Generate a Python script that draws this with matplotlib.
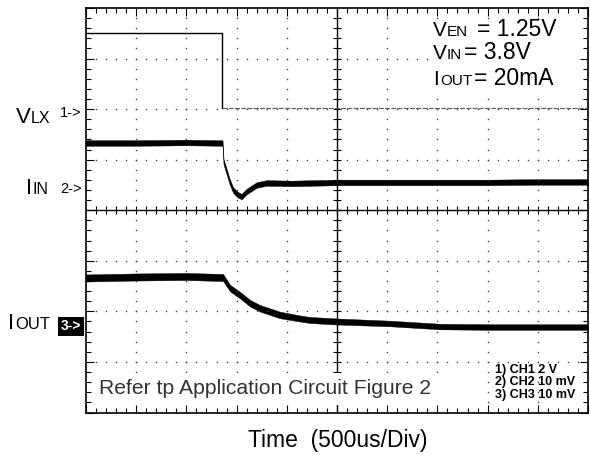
import numpy as np
import matplotlib.pyplot as plt

plt.rcParams['font.family'] = ['Liberation Sans', 'DejaVu Sans']

# Scope traces in screen divisions (x: 0..10 div, y: 0..8 div from bottom)
ch1_t = [0.0, 2.71, 2.71, 10.0]
ch1_v = [7.50, 7.50, 6.02, 6.02]

ch2_t = [0.0, 1.0, 2.0, 2.72, 2.74, 2.79, 2.86, 2.93, 3.02, 3.10, 3.20,
         3.40, 3.60, 4.1, 5.0, 6.0, 7.0, 8.0, 9.0, 10.0]
ch2_v = [5.33, 5.33, 5.34, 5.33, 4.96, 4.80, 4.57, 4.40, 4.31, 4.27, 4.37,
         4.50, 4.54, 4.53, 4.55, 4.55, 4.55, 4.55, 4.56, 4.56]
ch2_noise = [0.055] * len(ch2_t)

ch3_t = [0.0, 1.0, 2.0, 2.73, 2.87, 3.07, 3.27, 3.47, 3.86, 4.26, 4.46,
         4.99, 6.06, 7.05, 8.05, 9.04, 10.0]
ch3_v = [2.66, 2.68, 2.69, 2.67, 2.46, 2.32, 2.16, 2.06, 1.93, 1.86, 1.83,
         1.80, 1.76, 1.70, 1.69, 1.69, 1.69]
ch3_noise = [0.07, 0.07, 0.07, 0.07, 0.065, 0.065, 0.065, 0.065, 0.065, 0.06,
             0.06, 0.06, 0.055, 0.055, 0.055, 0.055, 0.055]

scope_settings = ['1) CH1 2 V', '2) CH2 10 mV', '3) CH3 10 mV']

W, H = 590, 455
fig = plt.figure(figsize=(W / 100, H / 100), dpi=100)
ax = fig.add_axes([86 / W, 1 - 412.5 / H, 502 / W, 404.5 / H])
ax.set_xlim(0, 10)
ax.set_ylim(0, 8)

# graticule
for s in ax.spines.values():
    s.set_linewidth(1.2)
ax.set_xticks(np.arange(0, 11, 1))
ax.set_yticks(np.arange(0, 9, 1))
ax.set_xticks(np.arange(0, 10.01, 0.2), minor=True)
ax.set_yticks(np.arange(0, 8.01, 0.2), minor=True)
ax.tick_params(which='both', direction='in', top=True, right=True,
               labelbottom=False, labelleft=False, width=0.8, color='black')
ax.tick_params(which='major', length=6)
ax.tick_params(which='minor', length=3.6)

dots = np.arange(0.2, 10, 0.2)
for i in [1, 2, 3, 4, 6, 7, 8, 9]:
    yy = np.arange(0.2, 8, 0.2)
    ax.plot(np.full(len(yy), i), yy, ls='none', marker='o', ms=1.1,
            color='0.25', mew=0)
for j in [1, 2, 3, 5, 6, 7]:
    ax.plot(dots, np.full(len(dots), j), ls='none', marker='o', ms=1.1,
            color='0.25', mew=0)

ax.axvline(5, color='black', lw=1)
ax.axhline(4, color='black', lw=1)
ym = np.arange(0.2, 8, 0.2)
ax.plot(np.full(len(ym), 5), ym, ls='none', marker='_', ms=5.5,
        mew=0.8, color='black')
xm = np.arange(0.2, 10, 0.2)
ax.plot(xm, np.full(len(xm), 4), ls='none', marker='|', ms=5.5,
        mew=0.8, color='black')

# traces
ax.plot(ch1_t[:3], ch1_v[:3], color='black', lw=1)
ax.plot(ch1_t[2:], ch1_v[2:], color='0.4', lw=0.9, ls=(0, (4, 1)))

for t, v, n in [(ch2_t, ch2_v, ch2_noise), (ch3_t, ch3_v, ch3_noise)]:
    t = np.array(t)
    v = np.array(v)
    n = np.array(n)
    ax.fill_between(t, v - n, v + n, color='black', lw=0.3, edgecolor='black')


def put(x, y, s, size, **kw):
    return fig.text(x / W, 1 - y / H, s, fontsize=size, va='baseline', **kw)


# channel labels
put(16, 123, 'V', 16)
put(30.5, 123, 'LX', 11.5)
fig.text(60 / W, 1 - 113 / H, '1->', fontsize=10.5, va='center')
put(26, 194, 'I', 16)
put(33, 194, 'IN', 11.5)
fig.text(60 / W, 1 - 189 / H, '2->', fontsize=10.5, va='center')
put(8, 329, 'I', 16)
put(15, 329, 'OUT', 12)
fig.text(61 / W, 1 - 326.5 / H, '3->', fontsize=10, va='center',
         color='white', fontweight='bold',
         bbox=dict(boxstyle='square,pad=0.2', fc='black', ec='none'))

# conditions box (covers the graticule behind it)
ax.add_patch(plt.Rectangle((6.9, 6.25), 2.95, 1.5, transform=ax.transData,
                           fc='white', ec='none', zorder=3))
put(433, 36, 'V', 15, zorder=4)
put(447, 36, 'EN', 11, zorder=4)
put(477, 36, '= 1.25V', 16.5, zorder=4)
put(433, 59, 'V', 15, zorder=4)
put(447, 59, 'IN', 11, zorder=4)
put(464, 59, '= 3.8V', 16.5, zorder=4)
put(433, 85, 'I', 15, zorder=4)
put(440, 85, 'OUT', 11, zorder=4)
put(474, 85, '= 20mA', 16.5, zorder=4)

ax.add_patch(plt.Rectangle((0.2, 0.15), 7.0, 0.63, transform=ax.transData,
                           fc='white', ec='none', zorder=3))
put(99, 394, 'Refer tp Application Circuit Figure 2', 15.2, color='#333333')

for k, s in enumerate(scope_settings):
    put(495, 373 + 12.5 * k, s, 9, fontweight='bold')

fig.text(338 / W, 1 - 447 / H, 'Time  (500us/Div)', fontsize=16.5,
         ha='center', va='baseline')

fig.savefig('out.png', dpi=100)
